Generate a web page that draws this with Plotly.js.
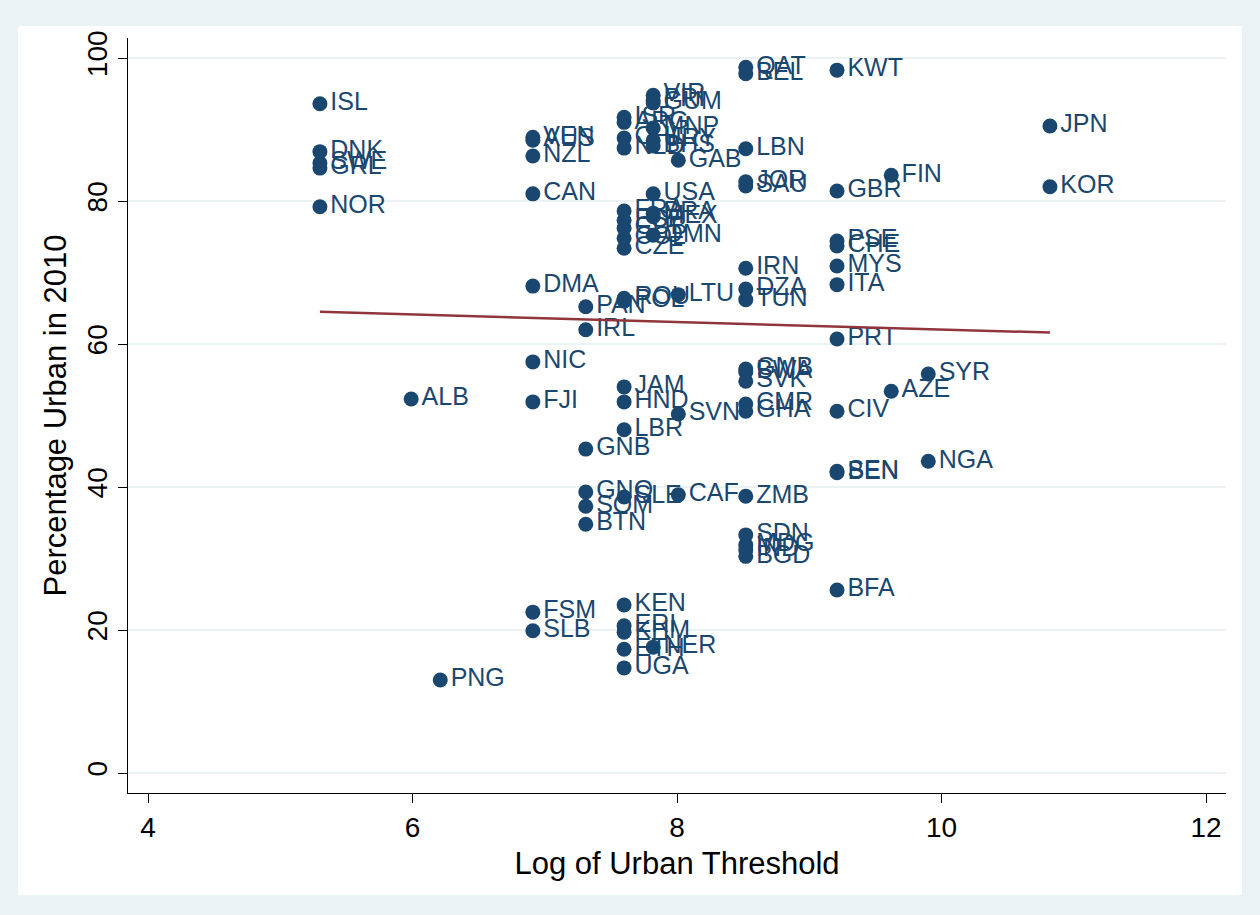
<!DOCTYPE html>
<html>
<head>
<meta charset="utf-8">
<script src="https://cdn.plot.ly/plotly-3.0.1.min.js"></script>
<style>html,body{margin:0;padding:0;background:#eaf2f3;}#chart{width:1260px;height:915px;}</style>
</head>
<body>
<div id="chart"></div>
<script>
const countries = [
 "ISL","DNK","SWE","GRL","NOR",
 "ALB","PNG",
 "VEN","AUS","NZL","CAN","DMA","NIC","FJI","FSM","SLB",
 "PAN","IRL","GNB","GNQ","SOM","BTN",
 "ISR","ARG","CHL","NLD","FRA","ESP","CUB","COL","CZE","ROU","POL","JAM","HND","LBR","SLE","KEN","ERI","KHM","ETH","UGA",
 "VIR","PRI","GUM","MNP","URY","BHS","USA","BRA","MEX","OMN","NER",
 "GAB","LTU","SVN","CAF",
 "QAT","BEL","LBN","JOR","SAU","IRN","DZA","TUN","GMB","BWA","SVK","CMR","GHA","ZMB","SDN","MDG","IND","BGD",
 "KWT","GBR","PSE","CHE","MYS","ITA","PRT","CIV","SEN","BEN","BFA",
 "FIN","AZE",
 "SYR","NGA",
 "JPN","KOR"
];
const logThreshold = [
 5.30,5.30,5.30,5.30,5.30,
 5.99,6.21,
 6.91,6.91,6.91,6.91,6.91,6.91,6.91,6.91,6.91,
 7.31,7.31,7.31,7.31,7.31,7.31,
 7.60,7.60,7.60,7.60,7.60,7.60,7.60,7.60,7.60,7.60,7.60,7.60,7.60,7.60,7.60,7.60,7.60,7.60,7.60,7.60,
 7.82,7.82,7.82,7.82,7.82,7.82,7.82,7.82,7.82,7.82,7.82,
 8.01,8.01,8.01,8.01,
 8.52,8.52,8.52,8.52,8.52,8.52,8.52,8.52,8.52,8.52,8.52,8.52,8.52,8.52,8.52,8.52,8.52,8.52,
 9.21,9.21,9.21,9.21,9.21,9.21,9.21,9.21,9.21,9.21,9.21,
 9.62,9.62,
 9.90,9.90,
 10.82,10.82
];
const pctUrban = [
 93.6,86.9,85.3,84.6,79.2,
 52.3,13.0,
 88.9,88.5,86.3,81.0,68.1,57.5,51.9,22.5,19.9,
 65.2,62.0,45.3,39.3,37.3,34.8,
 91.7,91.0,88.8,87.4,78.6,77.3,76.2,74.8,73.4,66.4,66.0,54.0,51.9,48.0,38.6,23.5,20.6,19.7,17.3,14.7,
 94.8,94.1,93.7,90.2,88.5,87.7,81.0,78.3,77.8,75.2,17.6,
 85.7,66.9,50.2,38.9,
 98.7,97.8,87.3,82.7,82.1,70.6,67.7,66.2,56.5,56.1,54.8,51.6,50.6,38.7,33.3,31.9,31.2,30.3,
 98.3,81.4,74.4,73.7,70.9,68.3,60.7,50.6,42.2,42.0,25.6,
 83.6,53.4,
 55.8,43.6,
 90.5,82.0
];
// fitted line endpoints
const fitX = [5.30, 10.82];
const fitY = [64.5, 61.6];
const xTicks = [4, 6, 8, 10, 12];
const yTicks = [0, 20, 40, 60, 80, 100];

const navy = '#1a476f';
const traces = [
 {
  type: 'scatter', mode: 'markers+text',
  x: logThreshold, y: pctUrban, text: countries,
  textposition: 'middle right',
  textfont: {family: 'Liberation Sans, Arial, sans-serif', size: 25, color: navy},
  marker: {color: navy, size: 15},
  cliponaxis: false, hoverinfo: 'x+y+text'
 },
 {
  type: 'scatter', mode: 'lines',
  x: fitX, y: fitY,
  line: {color: '#90353b', width: 2.5}
 }
];
const L = 128, R = 34, T = 38, B = 122;
const W = 1260 - L - R, H = 915 - T - B;
function px2paperX(p){ return (p - L) / W; }
function px2paperY(p){ return (915 - B - p) / H; }
const layout = {
 width: 1260, height: 915,
 margin: {l: L, r: R, t: T, b: B, pad: 0},
 paper_bgcolor: '#eaf2f3',
 plot_bgcolor: 'rgba(0,0,0,0)',
 showlegend: false,
 font: {family: 'Liberation Sans, Arial, sans-serif', color: '#000'},
 shapes: [{
  type: 'rect', xref: 'paper', yref: 'paper', layer: 'below',
  x0: px2paperX(18), x1: px2paperX(1242), y0: px2paperY(895), y1: px2paperY(26),
  fillcolor: '#ffffff', line: {width: 0}
 }],
 xaxis: {
  range: [4 - 20/132.25, 12 + 20/132.25],
  tickvals: xTicks, ticktext: xTicks.map(String),
  showgrid: false, zeroline: false,
  showline: true, linecolor: '#000', linewidth: 1,
  ticks: 'outside', ticklen: 9, tickcolor: '#000', tickwidth: 1,
  tickfont: {size: 28, color: '#000'},
  title: {text: 'Log of Urban Threshold', font: {size: 31, color: '#000'}, standoff: 10}
 },
 yaxis: {
  range: [-20/7.15, 100 + 20/7.15],
  tickvals: yTicks, ticktext: yTicks.map(String),
  tickangle: -90,
  showgrid: true, gridcolor: '#eaf2f3', gridwidth: 2,
  zeroline: false,
  showline: true, linecolor: '#000', linewidth: 1,
  ticks: 'outside', ticklen: 9, tickcolor: '#000', tickwidth: 1,
  tickfont: {size: 28, color: '#000'},
  title: {text: 'Percentage Urban in 2010', font: {size: 31, color: '#000'}, standoff: 5}
 }
};
Plotly.newPlot('chart', traces, layout, {displayModeBar: false, staticPlot: true});
</script>
</body>
</html>
